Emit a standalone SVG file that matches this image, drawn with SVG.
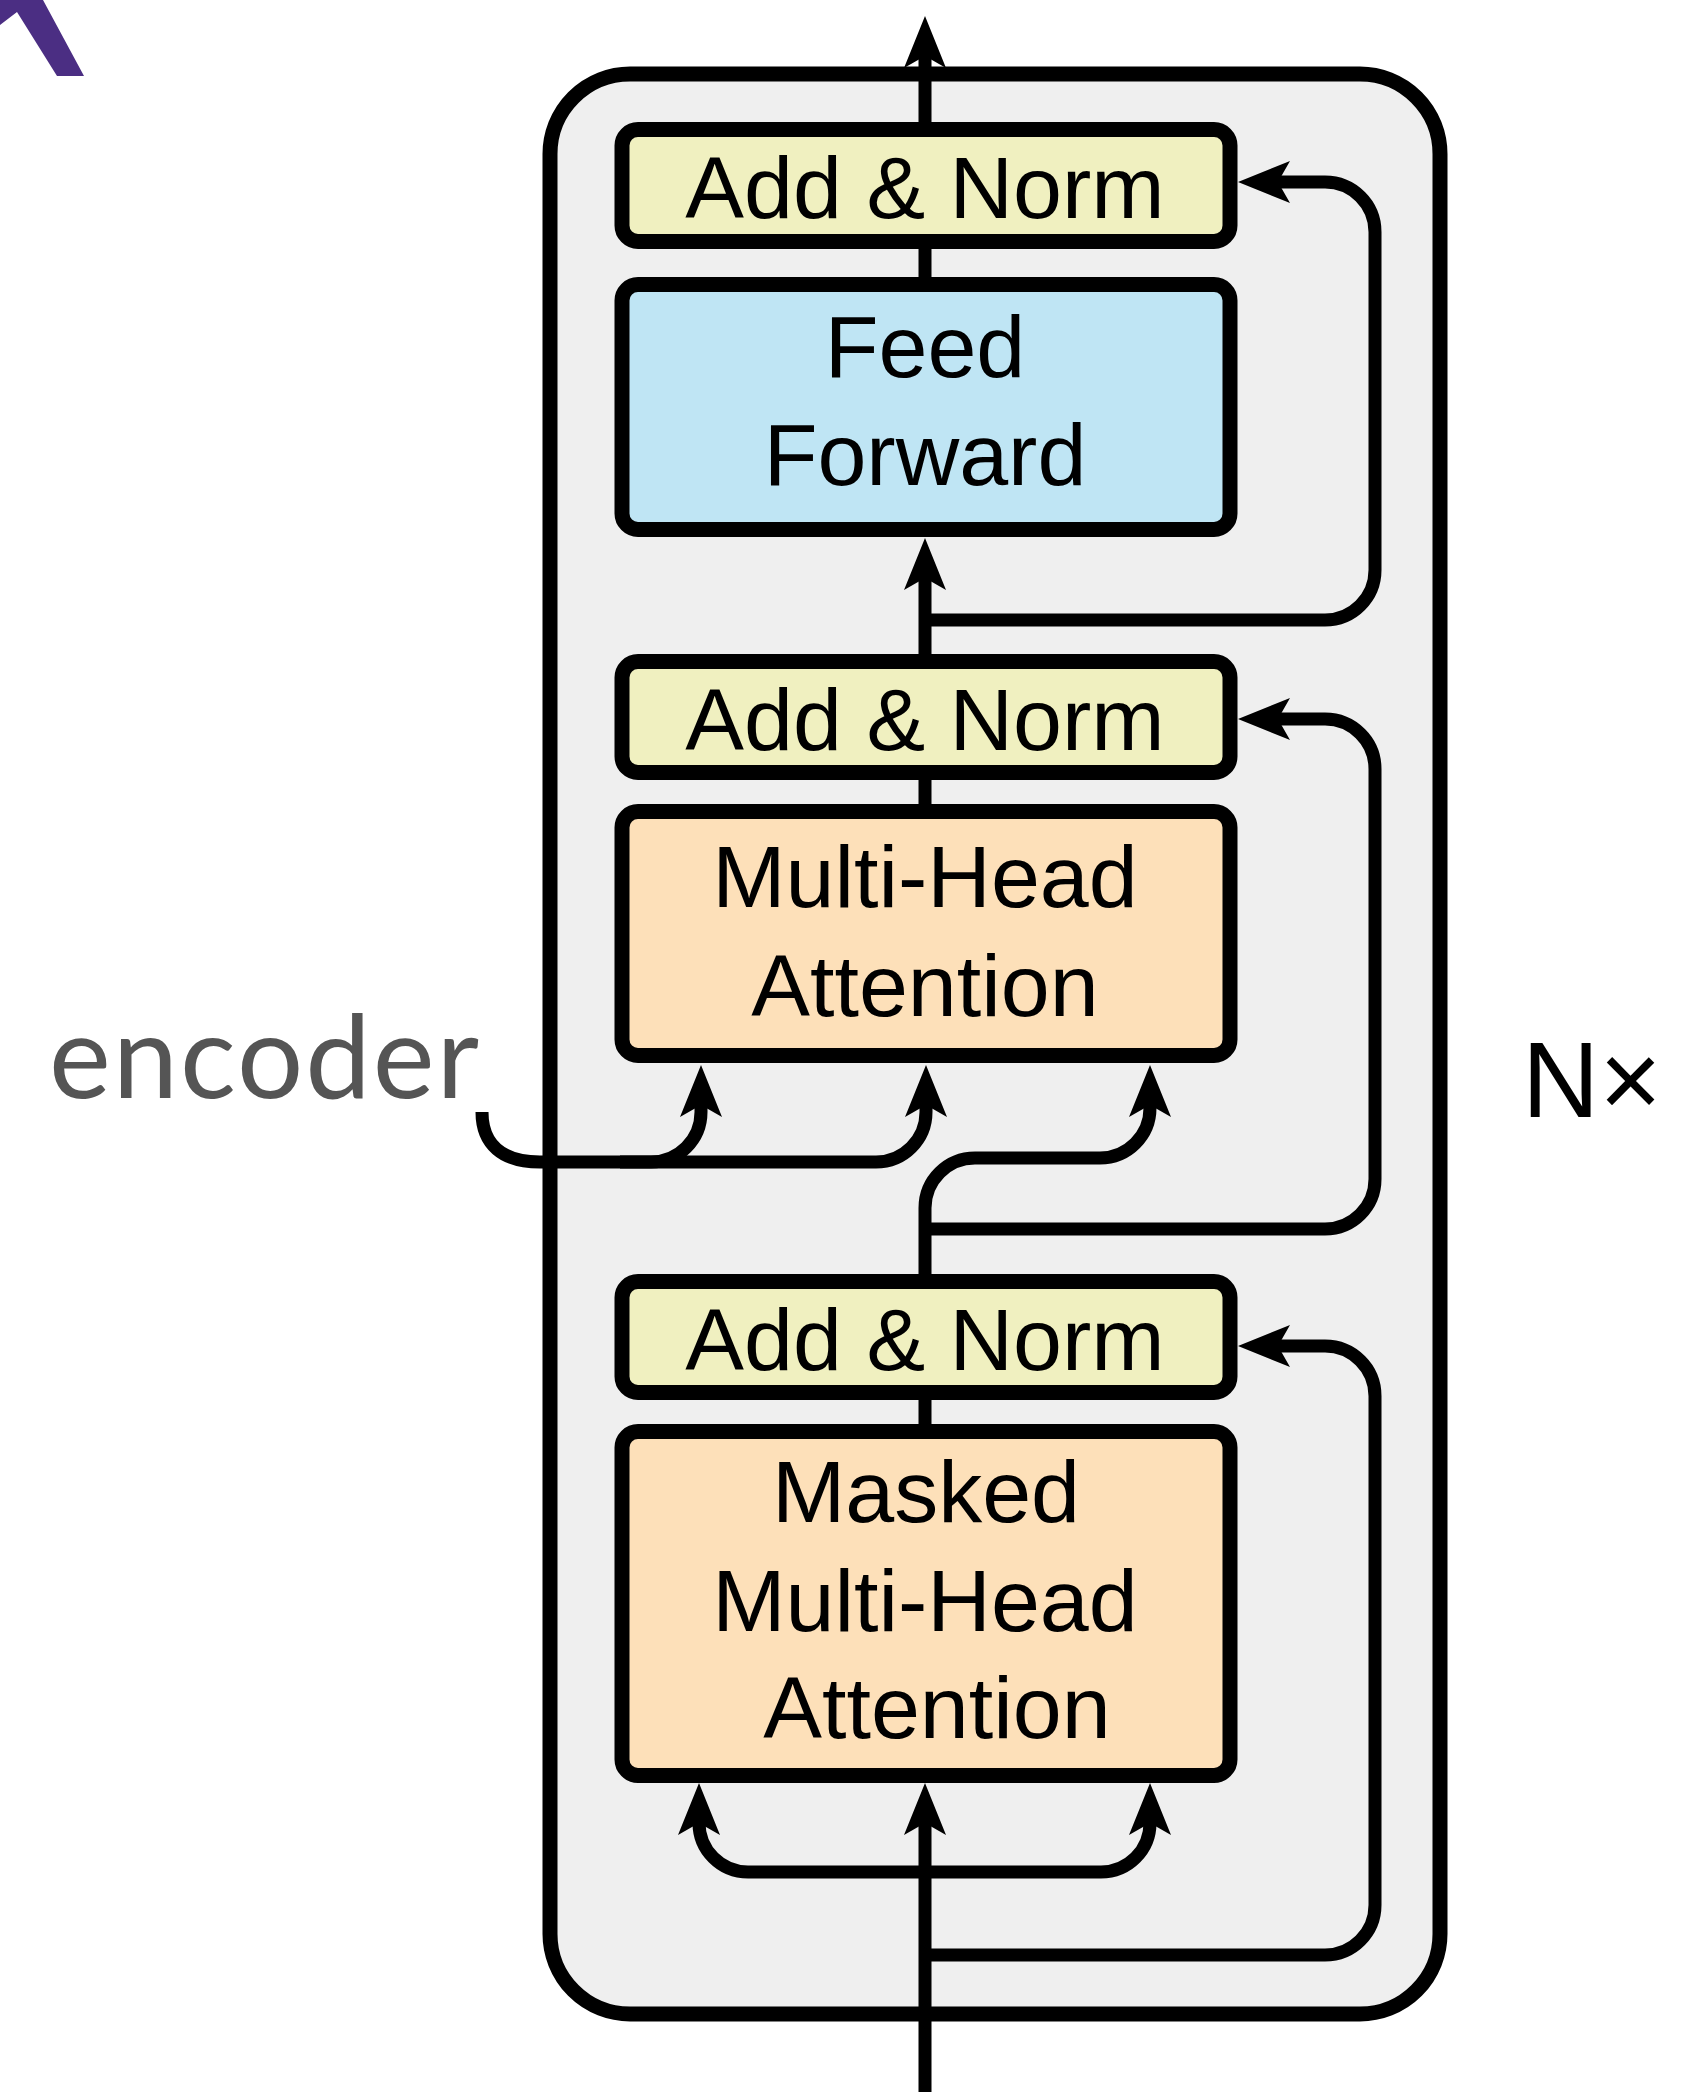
<svg xmlns="http://www.w3.org/2000/svg" width="1705" height="2092" viewBox="0 0 1705 2092">
  <style>
    .box { stroke: #000; stroke-width: 15; }
    .addnorm { fill: #f0f0c0; }
    .ff { fill: #bfe5f4; }
    .mha { fill: #fde0b9; }
    .lbl { font-family: "Liberation Sans", Arial, sans-serif; font-size: 88px; fill: #000; text-anchor: middle; }
    .conn { fill: none; stroke: #000; stroke-width: 13; }
    .arr { marker-end: url(#ah); }
  </style>
  <defs>
    <marker id="ah" markerUnits="userSpaceOnUse" viewBox="0 0 52 42" markerWidth="52" markerHeight="42" refX="12" refY="21" orient="auto">
      <path d="M0,0 L52,21 L0,42 L12,21 Z" fill="#000"/>
    </marker>
  </defs>
  <rect width="1705" height="2092" fill="#fff"/>

  <g id="logo-mark">
    <polygon points="0,0 43,0 84,76 57,76 17,12 0,25" fill="#4b2e83"/>
  </g>

  <g id="decoder-block">
    <rect x="550" y="74" width="890" height="1940" rx="80" ry="80" fill="#efefef" stroke="#000" stroke-width="15"/>
  </g>

  <g id="connectors">
    <path class="conn arr" d="M925,126 L925,56"/>
    <path class="conn" d="M925,245 L925,281"/>
    <path class="conn arr" d="M925,658 L925,578"/>
    <path class="conn arr" d="M925,620 L1325,620 A50,50 0 0 0 1375,570 L1375,232 A50,50 0 0 0 1325,182 L1278,182"/>
    <path class="conn" d="M925,775 L925,808"/>
    <path class="conn arr" d="M482,1112 C482,1144 502,1162 540,1162 L876,1162 A50,50 0 0 0 926,1112 L926,1105"/>
    <path class="conn arr" d="M620,1162 L651,1162 A50,50 0 0 0 701,1112 L701,1105"/>
    <path class="conn arr" d="M925,1278 L925,1208 A50,50 0 0 1 975,1158 L1100,1158 A50,50 0 0 0 1150,1108 L1150,1105"/>
    <path class="conn arr" d="M925,1229 L1325,1229 A50,50 0 0 0 1375,1179 L1375,769 A50,50 0 0 0 1325,719 L1278,719"/>
    <path class="conn" d="M925,1395 L925,1428"/>
    <path class="conn arr" d="M925,2092 L925,1823"/>
    <path class="conn arr" d="M925,1872 L748,1872 A49,49 0 0 1 699,1823"/>
    <path class="conn arr" d="M925,1872 L1101,1872 A49,49 0 0 0 1150,1823"/>
    <path class="conn arr" d="M925,1955 L1325,1955 A50,50 0 0 0 1375,1905 L1375,1396 A50,50 0 0 0 1325,1346 L1278,1346"/>
  </g>

  <g id="add-norm-1">
    <rect class="box addnorm" x="622" y="129.5" width="608" height="112" rx="16"/>
    <text class="lbl" x="925" y="218">Add &amp; Norm</text>
  </g>
  <g id="feed-forward">
    <rect class="box ff" x="622" y="284.5" width="608" height="245" rx="16"/>
    <text class="lbl" x="925" y="377">Feed</text>
    <text class="lbl" x="925" y="485">Forward</text>
  </g>
  <g id="add-norm-2">
    <rect class="box addnorm" x="622" y="661.5" width="608" height="111" rx="16"/>
    <text class="lbl" x="925" y="750">Add &amp; Norm</text>
  </g>
  <g id="multi-head-attention">
    <rect class="box mha" x="622" y="811.5" width="608" height="244" rx="16"/>
    <text class="lbl" x="925" y="907">Multi-Head</text>
    <text class="lbl" x="925" y="1016">Attention</text>
  </g>
  <g id="add-norm-3">
    <rect class="box addnorm" x="622" y="1281.5" width="608" height="111" rx="16"/>
    <text class="lbl" x="925" y="1370">Add &amp; Norm</text>
  </g>
  <g id="masked-multi-head-attention">
    <rect class="box mha" x="622" y="1431.5" width="608" height="344" rx="16"/>
    <text class="lbl" x="926" y="1522">Masked</text>
    <text class="lbl" x="925" y="1631">Multi-Head</text>
    <text class="lbl" x="937" y="1738">Attention</text>
  </g>

  <g id="encoder-label">
    <text x="49" y="1098" font-family="Lato, 'Open Sans', sans-serif" font-size="117" letter-spacing="2" fill="#555555">encoder</text>
  </g>
  <g id="nx-label">
    <text x="1522" y="1117" font-family="'Liberation Sans', Arial, sans-serif" font-size="107" fill="#000">N×</text>
  </g>
</svg>
